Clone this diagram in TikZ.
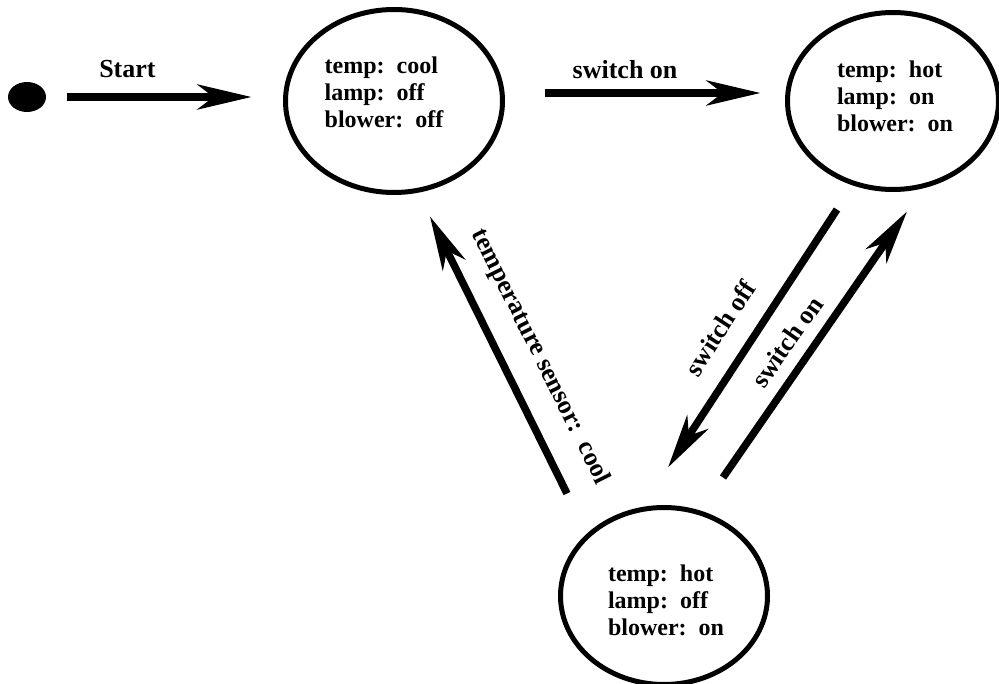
\documentclass[tikz,border=0pt]{standalone}
\usepackage{fontspec}
\setmainfont{Liberation Serif}
\usetikzlibrary{arrows.meta,shapes.geometric}

\begin{document}
\begin{tikzpicture}[x=1pt,y=1pt,
  every node/.style={font=\fontsize{24}{27}\selectfont\bfseries},
  state/.style={ellipse, draw, line width=5pt, inner sep=0pt, outer sep=0pt},
  statetext/.style={align=left, inner sep=0pt},
  trans/.style={line width=7.5pt, -{Stealth[length=54pt,width=25pt,inset=16pt]}},
  tlabel/.style={inner sep=0pt, font=\fontsize{26}{29}\selectfont\bfseries}
]
\useasboundingbox (0,0) rectangle (999,-684);

% initial pseudo-state
\node[ellipse, fill=black, minimum width=38pt, minimum height=30pt, inner sep=0pt, outer sep=0pt] (init) at (27,-97) {};

% states
\node[state, minimum width=217pt, minimum height=183pt] (s1) at (394,-101) {};
\node[state, minimum width=211pt, minimum height=177pt] (s2) at (893,-101) {};
\node[state, minimum width=207pt, minimum height=177pt] (s3) at (664,-596) {};

\node[statetext] (t1) at ([xshift=-10pt,yshift=9pt]s1.center) {temp:~~cool\\lamp:~~off\\blower:~~off};
\node[statetext] (t2) at ([xshift=2pt,yshift=5pt]s2.center) {temp:~~hot\\lamp:~~on\\blower:~~on};
\node[statetext] (t3) at ([xshift=2pt,yshift=-4pt]s3.center) {temp:~~hot\\lamp:~~off\\blower:~~on};

% transitions
\draw[trans, shorten <=21pt, shorten >=34pt] (init.east) -- (init.east -| s1.west)
  node[tlabel, pos=0.34, above=15pt] (lstart) {Start};
\draw[trans, shorten <=42pt, shorten >=27pt] ([yshift=8pt]s1.east) -- ([yshift=8pt]s2.west)
  node[tlabel, pos=0.43, above=10pt] (lon1) {switch on};
\draw[trans] ([xshift=-56pt,yshift=-20pt]s2.south) -- ([xshift=4pt,yshift=40pt]s3.north);
\draw[trans] ([xshift=59pt,yshift=30pt]s3.north) -- ([xshift=14pt,yshift=-22pt]s2.south);
\draw[trans] ([xshift=-97pt,yshift=14pt]s3.north) -- ([xshift=36pt,yshift=-24pt]s1.south);

% labels of the slanted transitions
\node[tlabel, rotate=57] (loff) at (720,-328) {switch off};
\node[tlabel, rotate=55] (lon2) at (787,-342) {switch on};
\node[tlabel, rotate=-63.6] (ltemp) at (540,-357) {temperature sensor:~~cool};
\end{tikzpicture}
\end{document}
